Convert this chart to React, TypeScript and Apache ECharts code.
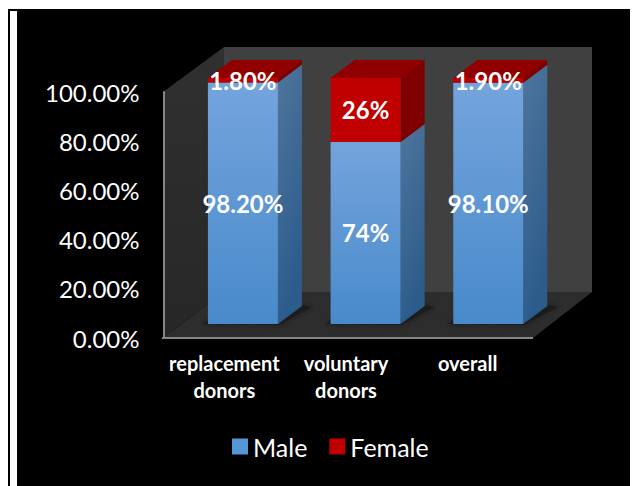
import React, { useEffect, useRef } from "react";
import * as echarts from "echarts";

const categories = ["replacement\ndonors", "voluntary\ndonors", "overall"];
const maleValues = [98.2, 74, 98.1];
const femaleValues = [1.8, 26, 1.9];
const maleLabels = ["98.20%", "74%", "98.10%"];
const femaleLabels = ["1.80%", "26%", "1.90%"];
const yTicks = [0, 20, 40, 60, 80, 100];

const FONT = "Lato, Carlito, sans-serif";
const DEPTH_X = 24;
const DEPTH_Y = 18;
const BAR_W = 70;

function grad(x2: number, y2: number, a: string, b: string) {
  return new echarts.graphic.LinearGradient(0, 0, x2, y2, [
    { offset: 0, color: a },
    { offset: 1, color: b },
  ]);
}

// One extruded bar segment: front face, right side, top face and its label.
function segment(
  starts: number[],
  values: number[],
  labels: string[],
  look: { front: any; side: any; top: string; drawTop: boolean }
) {
  return (params: any, api: any) => {
    const i = params.dataIndex;
    const cat = api.value(0);
    const [cx, y0] = api.coord([cat, starts[i]]);
    const [, y1] = api.coord([cat, starts[i] + values[i]]);
    const l = cx - BAR_W / 2;
    const r = cx + BAR_W / 2;
    const children: any[] = [
      {
        type: "polygon",
        shape: { points: [[r, y1], [r + DEPTH_X, y1 - DEPTH_Y], [r + DEPTH_X, y0 - DEPTH_Y], [r, y0]] },
        style: { fill: look.side },
      },
      {
        type: "rect",
        shape: { x: l, y: y1, width: BAR_W, height: y0 - y1 },
        style: { fill: look.front },
      },
    ];
    if (look.drawTop) {
      children.push({
        type: "polygon",
        shape: { points: [[l, y1], [l + DEPTH_X, y1 - DEPTH_Y], [r + DEPTH_X, y1 - DEPTH_Y], [r, y1]] },
        style: { fill: look.top },
      });
    }
    children.push({
      type: "text",
      z2: 10,
      style: {
        x: cx,
        y: (y0 + y1) / 2,
        text: labels[i],
        fill: "#ffffff",
        font: `bold 24px ${FONT}`,
        align: "center",
        verticalAlign: "middle",
      },
    });
    return { type: "group", children };
  };
}

// Soft contact shadow where each bar meets the floor.
function floorShadow(params: any, api: any) {
  const [cx, y0] = api.coord([api.value(0), 0]);
  const r = cx + BAR_W / 2;
  const l = cx - BAR_W / 2;
  return {
    type: "polygon",
    shape: {
      points: [[l - 5, y0], [r + 1, y0 + 1], [r + DEPTH_X + 10, y0 - DEPTH_Y + 1], [r + DEPTH_X, y0 - DEPTH_Y - 1], [r, y0 - 4], [l, y0 - 4]],
    },
    style: { fill: "#1e1e1e", shadowBlur: 4, shadowColor: "#1e1e1e" },
  };
}

export default function App() {
  const ref = useRef<HTMLDivElement>(null);

  useEffect(() => {
    const chart = echarts.init(ref.current!, undefined, { renderer: "svg" });
    const catData = categories.map((_, i) => [i]);

    chart.setOption({
      animation: false,
      backgroundColor: "transparent",
      textStyle: { fontFamily: FONT },
      legend: {
        data: ["Male", "Female"],
        left: 219,
        top: 421,
        itemWidth: 16,
        itemHeight: 16,
        itemGap: 22,
        icon: "rect",
        textStyle: { color: "#ffffff", fontSize: 25, fontFamily: FONT },
      },
      graphic: {
        elements: [
          // Page frame: black panel with a white strip down its left side.
          { type: "rect", z: -10, shape: { x: 0, y: 1, width: 628, height: 477 }, style: { fill: "#000000" } },
          { type: "rect", z: -9, shape: { x: 2, y: 3, width: 7, height: 480 }, style: { fill: "#ffffff" } },
          // Box of the 3D plot: back wall, side wall, floor.
          { type: "polygon", z: -8, shape: { points: [[216, 39], [584, 39], [584, 284], [216, 284]] }, style: { fill: "#404040" } },
          {
            type: "polygon",
            z: -8,
            shape: { points: [[155, 84], [216, 39], [216, 284], [155, 330]] },
            style: { fill: grad(0, 1, "#303030", "#272727") },
          },
          { type: "polygon", z: -8, shape: { points: [[155, 330], [216, 284], [584, 284], [525, 330]] }, style: { fill: "#2d2d2d" } },
          // Front edge of the floor.
          { type: "line", z: -7, shape: { x1: 154, y1: 330, x2: 525, y2: 330 }, style: { stroke: "#868686", lineWidth: 2 } },
        ],
      },
      grid: [
        // Bars stand back from the front plane, on the floor.
        { left: 173.6, width: 368, top: 70, height: 246 },
        // Front plane carrying the axes.
        { left: 155.5, width: 365, top: 84, height: 246 },
      ],
      xAxis: [
        { type: "category", gridIndex: 0, data: categories, show: false },
        {
          type: "category",
          gridIndex: 1,
          data: categories,
          axisTick: { show: false },
          axisLine: { show: false },
          axisLabel: { color: "#ffffff", fontSize: 20, fontWeight: "bold", fontFamily: FONT, margin: 11, lineHeight: 27, interval: 0 },
        },
      ],
      yAxis: [
        { type: "value", gridIndex: 0, min: 0, max: 100, show: false },
        {
          type: "value",
          gridIndex: 1,
          min: 0,
          max: 100,
          interval: 20,
          splitLine: { show: false },
          axisTick: { show: false },
          axisLine: { show: true, lineStyle: { color: "#868686", width: 2 } },
          axisLabel: {
            color: "#ffffff",
            fontSize: 24,
            fontFamily: FONT,
            margin: 24,
            padding: [0, 0, 2, 0],
            formatter: (v: number) => (yTicks.includes(v) ? `${v.toFixed(2)}%` : ""),
          },
        },
      ],
      series: [
        {
          name: "shadow",
          type: "custom",
          xAxisIndex: 0,
          yAxisIndex: 0,
          z: 1,
          silent: true,
          data: catData,
          renderItem: floorShadow,
        },
        {
          name: "Male",
          type: "custom",
          xAxisIndex: 0,
          yAxisIndex: 0,
          z: 2,
          itemStyle: { color: "#5596d6" },
          data: catData,
          renderItem: segment(maleValues.map(() => 0), maleValues, maleLabels, {
            front: grad(0, 1, "#74a4dc", "#488acb"),
            side: grad(0.3, 1, "#4f759c", "#2c5c8c"),
            top: "#900000",
            drawTop: false,
          }),
        },
        {
          name: "Female",
          type: "custom",
          xAxisIndex: 0,
          yAxisIndex: 0,
          z: 3,
          itemStyle: { color: "#c00000" },
          data: catData,
          renderItem: segment(maleValues, femaleValues, femaleLabels, {
            front: "#c00000",
            side: "#7f0000",
            top: "#900000",
            drawTop: true,
          }),
        },
      ],
    });

    return () => chart.dispose();
  }, []);

  return <div ref={ref} style={{ width: 630, height: 478 }} />;
}
